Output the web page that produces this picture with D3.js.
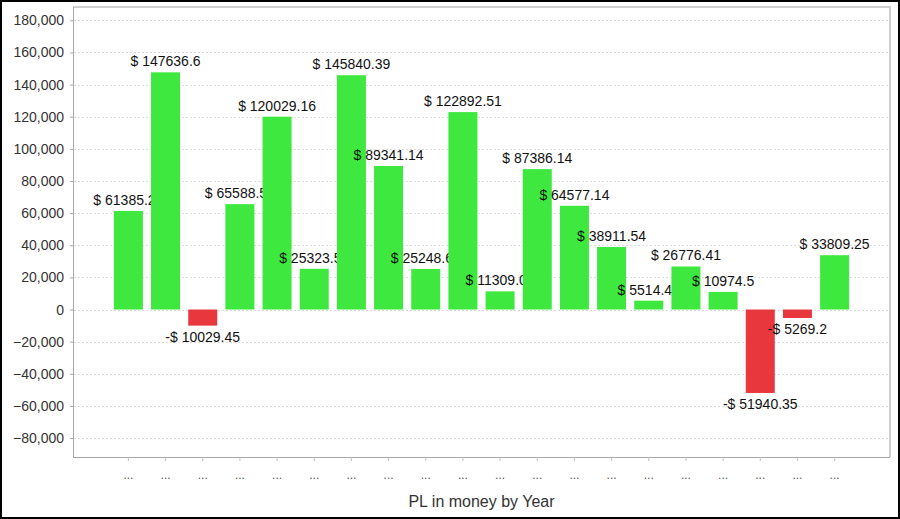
<!DOCTYPE html>
<html>
<head>
<meta charset="utf-8">
<script src="https://cdn.jsdelivr.net/npm/d3@7/dist/d3.min.js"></script>
<style>
    html, body { margin: 0; padding: 0; background: #fff; }
    svg { display: block; font-family: "Liberation Sans", Arial, sans-serif; }
</style>
</head>
<body>
<div id="chart"></div>
<script>
    var categories = ["...", "...", "...", "...", "...", "...", "...", "...", "...", "...",
        "...", "...", "...", "...", "...", "...", "...", "...", "...", "..."];
    // last digits of the clipped labels are estimates
    var values = [61385.25, 147636.6, -10029.45, 65588.55, 120029.16, 25323.55, 145840.39, 89341.14,
        25248.65, 122892.51, 11309.05, 87386.14, 64577.14, 38911.54, 5514.45, 26776.41, 10974.5,
        -51940.35, -5269.2, 33809.25];
    var yTicks = [-80000, -60000, -40000, -20000, 0, 20000, 40000, 60000, 80000,
        100000, 120000, 140000, 160000, 180000];
    var xTitle = "PL in money by Year";

    var width = 900, height = 519;
    var plot = {left: 73, top: 7, right: 890, bottom: 457};

    var svg = d3.select("#chart").append("svg")
        .attr("width", width)
        .attr("height", height);

    // outer frame
    svg.append("rect")
        .attr("x", 1).attr("y", 1)
        .attr("width", width - 2).attr("height", height - 2)
        .attr("fill", "#fff")
        .attr("stroke", "#000")
        .attr("stroke-width", 2);

    var x = d3.scaleBand()
        .domain(d3.range(categories.length))
        .range([plot.left, plot.right])
        .paddingInner(0.22)
        .paddingOuter(1.1);

    var y = d3.scaleLinear()
        .domain([-91800, 188300])
        .range([plot.bottom, plot.top]);

    // plot border, light top/right edges
    svg.append("path")
        .attr("d", "M" + plot.left + "," + plot.top + "H" + plot.right + "V" + plot.bottom)
        .attr("fill", "none")
        .attr("stroke", "#d0d0d0")
        .attr("stroke-width", 2);

    // grid
    svg.append("g").selectAll("line")
        .data(yTicks)
        .enter().append("line")
        .attr("x1", plot.left + 1)
        .attr("x2", plot.right - 1)
        .attr("y1", function (d) { return Math.round(y(d)) + 0.5; })
        .attr("y2", function (d) { return Math.round(y(d)) + 0.5; })
        .attr("stroke", "#dcdcdc")
        .attr("stroke-dasharray", "2,2");

    var yAxis = svg.append("g")
        .attr("transform", "translate(" + plot.left + ",0)")
        .call(d3.axisLeft(y).tickValues(yTicks).tickSize(3).tickPadding(6).tickFormat(d3.format(",")));
    yAxis.select(".domain").attr("stroke", "#a8a8a8").attr("d", "M0.5," + plot.top + "V" + plot.bottom);
    yAxis.selectAll(".tick line").attr("stroke", "#a8a8a8");
    yAxis.selectAll(".tick text")
        .attr("fill", "#333")
        .style("font-size", "14px");

    var xAxis = svg.append("g")
        .attr("transform", "translate(0," + plot.bottom + ")")
        .call(d3.axisBottom(x).tickSize(4).tickPadding(9).tickFormat(function (i) { return categories[i]; }));
    xAxis.select(".domain").attr("stroke", "#a8a8a8").attr("d", "M" + plot.left + ",0.5H" + plot.right);
    xAxis.selectAll(".tick line").attr("stroke", "#c0c0c0");
    xAxis.selectAll(".tick text")
        .attr("fill", "#555")
        .style("font-size", "12px");

    // bars and their labels, in order so the next bar covers the previous label
    var bars = svg.append("g");
    values.forEach(function (v, i) {
        var y0 = y(Math.max(0, v)), y1 = y(Math.min(0, v));
        bars.append("rect")
            .attr("x", x(i))
            .attr("y", y0)
            .attr("width", x.bandwidth())
            .attr("height", y1 - y0)
            .attr("fill", v < 0 ? "#e8383d" : "#3ee83e");

        var label = (v < 0 ? "-$ " : "$ ") + Math.abs(v);
        bars.append("text")
            .attr("x", x(i) + x.bandwidth() / 2)
            .attr("y", v < 0 ? y1 + 16 : y0 - 6)
            .attr("text-anchor", "middle")
            .attr("fill", "#111")
            .style("font-size", "14px")
            .text(label);
    });

    svg.append("text")
        .attr("x", (plot.left + plot.right) / 2)
        .attr("y", 507)
        .attr("text-anchor", "middle")
        .attr("fill", "#333")
        .style("font-size", "16px")
        .text(xTitle);
</script>
</body>
</html>
